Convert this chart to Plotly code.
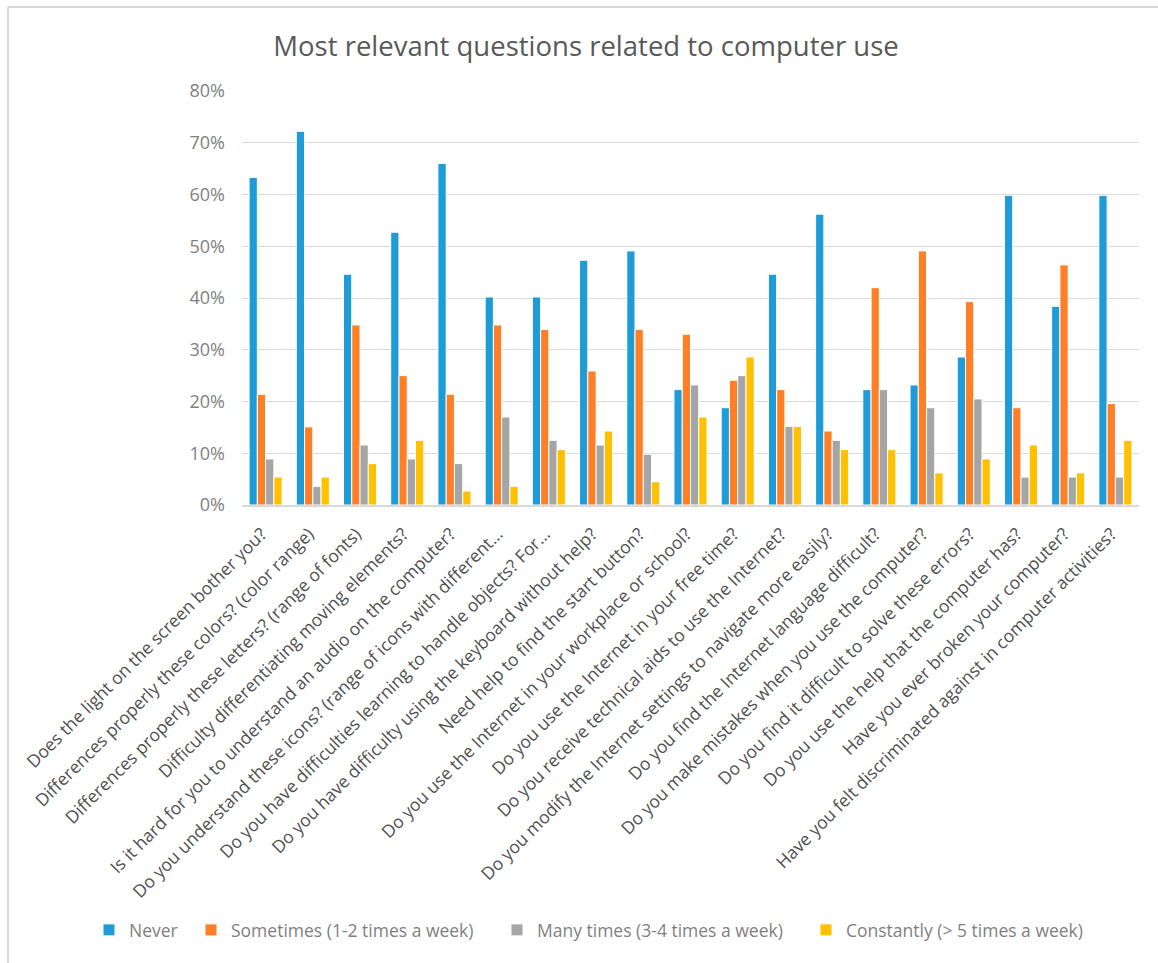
import plotly.graph_objects as go

categories = [
    "Does the light on the screen bother you?",
    "Differences properly these colors? (color range)",
    "Differences properly these letters? (range of fonts)",
    "Difficulty differentiating moving elements?",
    "Is it hard for you to understand an audio on the computer?",
    "Do you understand these icons? (range of icons with different…",
    "Do you have difficulties learning to handle objects? For…",
    "Do you have difficulty using the keyboard without help?",
    "Need help to find the start button?",
    "Do you use the Internet in your workplace or school?",
    "Do you use the Internet in your free time?",
    "Do you receive technical aids to use the Internet?",
    "Do you modify the Internet settings to navigate more easily?",
    "Do you find the Internet language difficult?",
    "Do you make mistakes when you use the computer?",
    "Do you find it difficult to solve these errors?",
    "Do you use the help that the computer has?",
    "Have you ever broken your computer?",
    "Have you felt discriminated against in computer activities?",
]

never = [63.3, 72.2, 44.6, 52.7, 66.0, 40.2, 40.2, 47.3, 49.1, 22.3, 18.8, 44.6, 56.2, 22.3, 23.2, 28.6, 59.8, 38.4, 59.8]
sometimes = [21.4, 15.1, 34.8, 25.0, 21.4, 34.8, 33.9, 25.9, 33.9, 33.0, 24.1, 22.3, 14.3, 42.0, 49.1, 39.3, 18.8, 46.4, 19.6]
many_times = [8.9, 3.6, 11.6, 8.9, 8.0, 17.0, 12.5, 11.6, 9.8, 23.2, 25.0, 15.2, 12.5, 22.3, 18.8, 20.5, 5.4, 5.4, 5.4]
constantly = [5.4, 5.4, 8.0, 12.5, 2.7, 3.6, 10.7, 14.3, 4.5, 17.0, 28.6, 15.2, 10.7, 10.7, 6.2, 8.9, 11.6, 6.2, 12.5]

series_names = ["Never", "Sometimes (1-2 times a week)", "Many times (3-4 times a week)", "Constantly (> 5 times a week)"]
series_values = [never, sometimes, many_times, constantly]
colors = ["#1F9BD7", "#FF7F27", "#A5A5A5", "#FFC000"]
legend_widths = [57, 261, 264, 250]

fig = go.Figure()
for name, vals, col, lw in zip(series_names, series_values, colors, legend_widths):
    fig.add_trace(go.Bar(
        x=list(range(len(categories))),
        y=[v / 100 for v in vals],
        name=name,
        legendwidth=lw,
        marker=dict(color=col, line=dict(color="white", width=1)),
    ))

W, H = 1158, 963
L, R, T, B = 242, 19, 91, 458
pw = W - L - R
ph = H - T - B

def px_x(p):
    return (p - L) / pw

def px_y(p):
    return (H - B - p) / ph

fig.update_layout(
    width=W, height=H,
    margin=dict(l=L, r=R, t=T, b=B, autoexpand=False),
    paper_bgcolor="white", plot_bgcolor="white",
    font=dict(family="Open Sans, Noto Sans, sans-serif", color="#595959"),
    title=dict(text="Most relevant questions related to computer use",
               x=px_x(586), xanchor="center", xref="paper",
               y=1 - 46 / H, yanchor="middle",
               font=dict(size=27.5, color="#595959")),
    barmode="group",
    bargap=0.3,
    bargroupgap=0.0,
    showlegend=True,
    legend=dict(orientation="h", x=px_x(89), xanchor="left", y=px_y(930), yanchor="middle",
                font=dict(size=17.5, color="#7f7f7f"), itemwidth=30, traceorder="normal"),
    xaxis=dict(
        tickmode="array", tickvals=list(range(len(categories))), ticktext=categories,
        tickangle=-45, tickfont=dict(size=17.5, color="#505050"),
        ticklabelshift=-4, ticklabelstandoff=10,
        range=[-0.5, len(categories) - 0.5],
        showline=True, linecolor="#D9D9D9", linewidth=2, ticks="", showgrid=False,
        zeroline=False,
    ),
    yaxis=dict(
        range=[0, 0.8], dtick=0.1, tickformat=".0%",
        tickfont=dict(size=18, color="#7f7f7f"),
        gridcolor="#D9D9D9", gridwidth=1, zeroline=False, showline=False,
        ticklabelstandoff=16,
    ),
    shapes=[
        dict(type="line", xref="paper", yref="paper", x0=px_x(8), x1=px_x(8), y0=px_y(7), y1=px_y(963),
             line=dict(color="#D9D9D9", width=2)),
        dict(type="line", xref="paper", yref="paper", x0=px_x(8), x1=px_x(1158), y0=px_y(7), y1=px_y(7),
             line=dict(color="#D9D9D9", width=2)),
    ],
)

fig.write_html("out.html")
